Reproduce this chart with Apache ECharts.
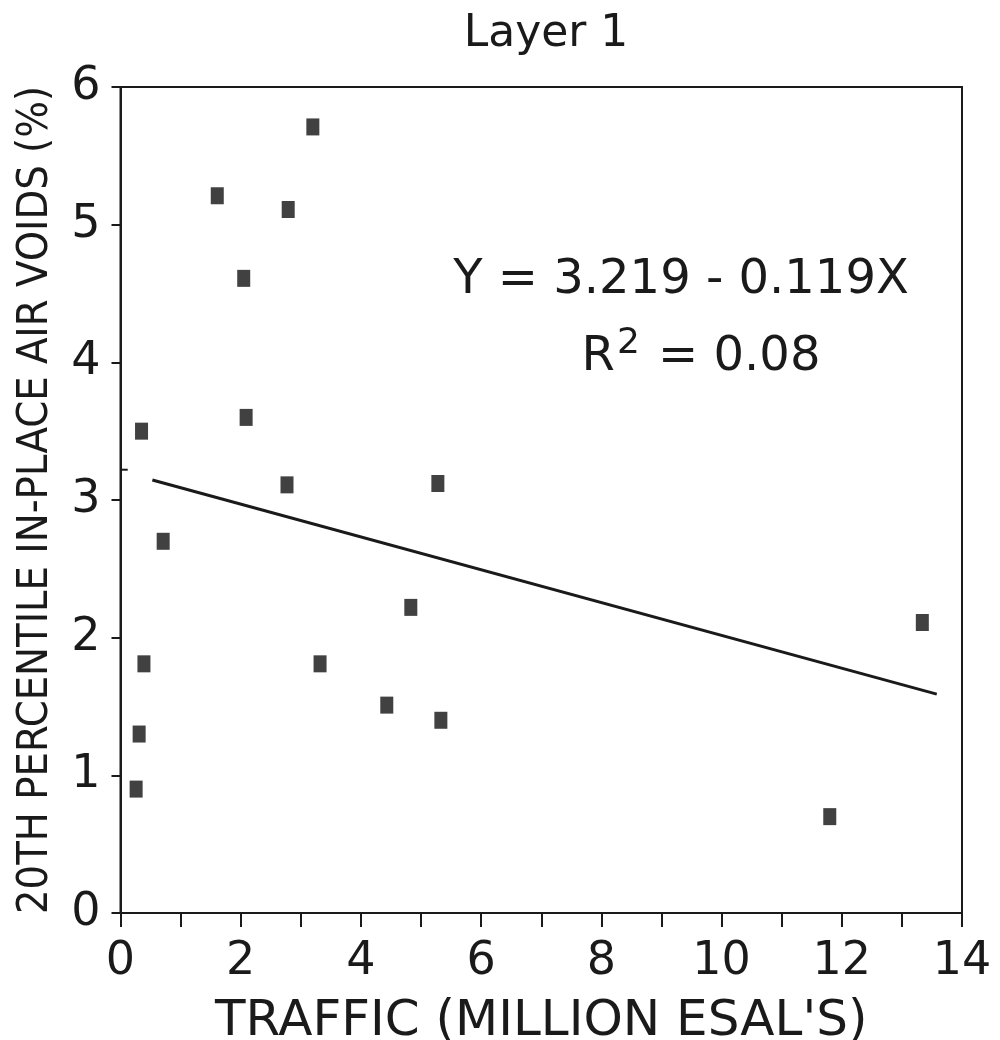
<!DOCTYPE html>
<html>
<head>
<meta charset="utf-8">
<script src="https://cdn.jsdelivr.net/npm/echarts@6/dist/echarts.min.js"></script>
<style>
html,body{margin:0;padding:0;background:#fff;}
#chart{width:1000px;height:1040px;}
</style>
</head>
<body>
<div id="chart"></div>
<script>
// Data
const trafficX = [0.35, 0.39, 0.31, 0.26, 0.71, 1.61, 2.05, 2.09, 2.79, 3.20, 2.77, 3.32, 4.43, 4.83, 5.28, 5.33, 11.80, 13.34];
const airVoidsY = [3.50, 1.81, 1.30, 0.90, 2.70, 5.21, 4.61, 3.60, 5.11, 5.71, 3.11, 1.81, 1.51, 2.22, 3.12, 1.40, 0.70, 2.11];
const fitLineX = [0.53, 13.58];
const fitLineY = [3.145, 1.59];
const interceptMarkX = [0, 0.12];
const interceptMarkY = [3.22, 3.22];
const titleText = 'Layer 1';
const xAxisName = "TRAFFIC (MILLION ESAL'S)";
const yAxisName = '20TH PERCENTILE IN-PLACE AIR VOIDS (%)';
const equationText = 'Y = 3.219 - 0.119X';
const r2Value = '0.08';

const FONT = "'DejaVu Sans', sans-serif";
const INK = '#1a1a1a';

const chart = echarts.init(document.getElementById('chart'), null, {renderer: 'canvas'});
const option = {
  backgroundColor: '#ffffff',
  animation: false,
  title: {
    text: titleText,
    left: 541, top: 8, textAlign: 'center',
    textStyle: {fontFamily: FONT, fontSize: 44, fontWeight: 'normal', color: INK}
  },
  grid: {
    left: 120.5, right: 38, top: 87, bottom: 127,
    outerBoundsMode: 'none', containLabel: false,
    show: true, borderColor: INK, borderWidth: 2, backgroundColor: 'transparent'
  },
  xAxis: {
    type: 'value', min: 0, max: 14, interval: 2,
    name: xAxisName, nameLocation: 'middle', nameGap: 84,
    nameTextStyle: {fontFamily: FONT, fontSize: 50, color: INK},
    axisLine: {show: true, onZero: false, lineStyle: {color: INK, width: 2}},
    axisTick: {show: true, inside: false, length: 14, lineStyle: {color: INK, width: 2}},
    minorTick: {show: true, splitNumber: 2, length: 14, lineStyle: {color: INK, width: 2}},
    splitLine: {show: false},
    axisLabel: {fontFamily: FONT, fontSize: 46, color: INK, margin: 26}
  },
  yAxis: {
    type: 'value', min: 0, max: 6, interval: 1,
    name: yAxisName, nameLocation: 'middle', nameGap: 63,
    nameTextStyle: {fontFamily: "'DejaVu Sans Condensed', 'DejaVu Sans', sans-serif", fontSize: 43, color: INK},
    axisLine: {show: true, onZero: false, lineStyle: {color: INK, width: 2}},
    axisTick: {show: true, inside: false, length: 9, lineStyle: {color: INK, width: 2}},
    splitLine: {show: false},
    axisLabel: {fontFamily: FONT, fontSize: 46, color: INK, margin: 20}
  },
  graphic: [
    {
      type: 'text', x: 681, y: 281,
      style: {text: equationText, font: "48px 'DejaVu Sans'", fill: INK, textAlign: 'center', textVerticalAlign: 'middle'}
    },
    {
      type: 'text', x: 701, y: 354,
      style: {
        text: '{r|R}{s|2}{r| = ' + r2Value + '}',
        fill: INK, textAlign: 'center', textVerticalAlign: 'middle',
        rich: {
          r: {fontFamily: "DejaVu Sans", fontSize: 48, fill: INK, verticalAlign: 'bottom', lineHeight: 56},
          s: {fontFamily: "DejaVu Sans", fontSize: 36, fill: INK, verticalAlign: 'top', lineHeight: 40, padding: [0, 3, 0, 2]}
        }
      }
    }
  ],
  series: [
    {
      type: 'scatter',
      data: trafficX.map((x, i) => [x, airVoidsY[i]]),
      symbol: 'rect', symbolSize: [13, 17],
      itemStyle: {color: '#111111'},
      z: 3
    },
    {
      type: 'line',
      data: fitLineX.map((x, i) => [x, fitLineY[i]]),
      symbol: 'none', lineStyle: {color: INK, width: 3}, z: 2
    },
    {
      type: 'line',
      data: interceptMarkX.map((x, i) => [x, interceptMarkY[i]]),
      symbol: 'none', lineStyle: {color: INK, width: 2}, z: 2
    }
  ]
};
chart.setOption(option);
</script>
</body>
</html>
